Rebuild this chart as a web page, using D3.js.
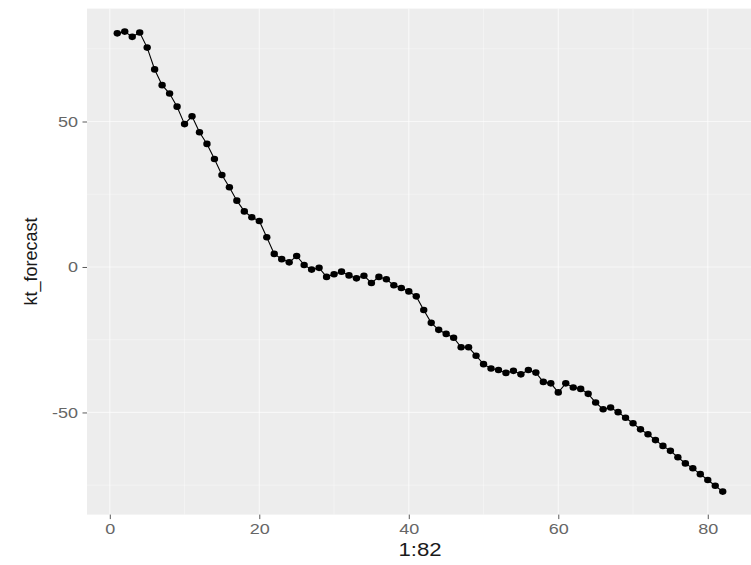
<!DOCTYPE html>
<html>
<head>
<meta charset="utf-8">
<script src="https://cdn.jsdelivr.net/npm/d3@7"></script>
<style>
  html, body { margin: 0; padding: 0; background: #ffffff; }
  svg { display: block; }
  text { font-family: "Liberation Sans", Arial, sans-serif; }
</style>
</head>
<body>
<svg id="chart" width="751" height="565"></svg>
<script>
// Forecast index kt for steps 1..82
const steps = d3.range(1, 83);
const ktForecast = [
  80.3, 80.9, 79.1, 80.6, 75.4, 67.9, 62.5, 59.6, 55.1, 49.1,
  51.8, 46.3, 42.3, 37.1, 31.6, 27.4, 22.8, 19.1, 17.1, 15.8,
  10.2, 4.5, 2.7, 1.6, 3.8, 0.7, -0.9, -0.3, -3.4, -2.5,
  -1.6, -2.9, -3.9, -3.0, -5.5, -3.4, -4.2, -6.3, -7.2, -8.4,
  -10.1, -14.8, -19.2, -21.6, -23.0, -24.3, -27.6, -27.6, -30.5, -33.4,
  -34.9, -35.4, -36.4, -35.7, -36.9, -35.4, -36.3, -39.5, -40.0, -43.1,
  -40.0, -41.4, -41.9, -43.6, -46.6, -48.9, -48.3, -49.9, -51.8, -53.7,
  -55.8, -57.5, -59.5, -61.5, -63.2, -65.4, -67.5, -69.2, -71.2, -73.2,
  -75.2, -77.2
];
const xTicks = [0, 20, 40, 60, 80];
const xMinor = [10, 30, 50, 70];
const yTicks = [-50, 0, 50];
const yMinor = [-75, -25, 25, 75];
const xTitle = "1:82";
const yTitle = "kt_forecast";

const panel = { left: 87, right: 753, top: 8.6, bottom: 514.6 };
const textStretch = 1.2;

const svg = d3.select("#chart");

// ggplot-style 5% expansion around the data range
const xExt = d3.extent(steps), yExt = d3.extent(ktForecast);
const xPad = (xExt[1] - xExt[0]) * 0.05, yPad = (yExt[1] - yExt[0]) * 0.05;
const x = d3.scaleLinear().domain([xExt[0] - xPad, xExt[1] + xPad]).range([panel.left, panel.right]);
const y = d3.scaleLinear().domain([yExt[0] - yPad, yExt[1] + yPad]).range([panel.bottom, panel.top]);

// panel background
svg.append("rect")
  .attr("x", panel.left).attr("y", panel.top)
  .attr("width", panel.right - panel.left).attr("height", panel.bottom - panel.top)
  .attr("fill", "#ededed");

const grid = svg.append("g").attr("stroke", "#ffffff").attr("stroke-opacity", 0.6);
grid.selectAll(".vminor").data(xMinor).join("line")
  .attr("x1", d => x(d)).attr("x2", d => x(d))
  .attr("y1", panel.top).attr("y2", panel.bottom).attr("stroke-width", 0.6);
grid.selectAll(".hminor").data(yMinor).join("line")
  .attr("y1", d => y(d)).attr("y2", d => y(d))
  .attr("x1", panel.left).attr("x2", panel.right).attr("stroke-width", 0.6);
grid.selectAll(".vmajor").data(xTicks).join("line")
  .attr("x1", d => x(d)).attr("x2", d => x(d))
  .attr("y1", panel.top).attr("y2", panel.bottom).attr("stroke-width", 1.2);
grid.selectAll(".hmajor").data(yTicks).join("line")
  .attr("y1", d => y(d)).attr("y2", d => y(d))
  .attr("x1", panel.left).attr("x2", panel.right).attr("stroke-width", 1.2);

// axes
const xAxis = svg.append("g")
  .attr("transform", `translate(0,${panel.bottom})`)
  .call(d3.axisBottom(x).tickValues(xTicks).tickSize(4.5).tickPadding(4).tickFormat(d3.format("d")));
const yAxis = svg.append("g")
  .attr("transform", `translate(${panel.left},0)`)
  .call(d3.axisLeft(y).tickValues(yTicks).tickSize(4.5).tickPadding(4).tickFormat(d => d < 0 ? "-" + Math.abs(d) : String(d)));
[xAxis, yAxis].forEach(a => {
  a.select(".domain").remove();
  a.selectAll(".tick line").attr("stroke", "#5a5a5a").attr("stroke-width", 1);
  a.selectAll(".tick text").attr("fill", "#666666").attr("font-size", 15)
    .attr("font-family", "Liberation Sans, Arial, sans-serif");
});
xAxis.selectAll(".tick text").attr("transform", `scale(${textStretch},1)`);
yAxis.selectAll(".tick text")
  .attr("x", -9 / textStretch)
  .attr("transform", `scale(${textStretch},1)`);

// series line and points
const pts = steps.map((s, i) => [s, ktForecast[i]]);
svg.append("path")
  .datum(pts)
  .attr("fill", "none").attr("stroke", "#000000").attr("stroke-width", 1.1)
  .attr("d", d3.line().x(d => x(d[0])).y(d => y(d[1])));
svg.append("g").selectAll("ellipse")
  .data(pts)
  .join("ellipse")
  .attr("cx", d => x(d[0])).attr("cy", d => y(d[1]))
  .attr("rx", 3.7).attr("ry", 3.3).attr("fill", "#000000");

// axis titles
const cx = (panel.left + panel.right) / 2;
svg.append("text")
  .attr("transform", `translate(${cx},556) scale(${textStretch},1)`)
  .attr("text-anchor", "middle").attr("font-size", 18.5).attr("fill", "#1a1a1a")
  .text(xTitle);
svg.append("text")
  .attr("transform", `translate(37,${(panel.top + panel.bottom) / 2}) rotate(-90)`)
  .attr("text-anchor", "middle").attr("font-size", 18).attr("fill", "#1a1a1a")
  .text(yTitle);
</script>
</body>
</html>
